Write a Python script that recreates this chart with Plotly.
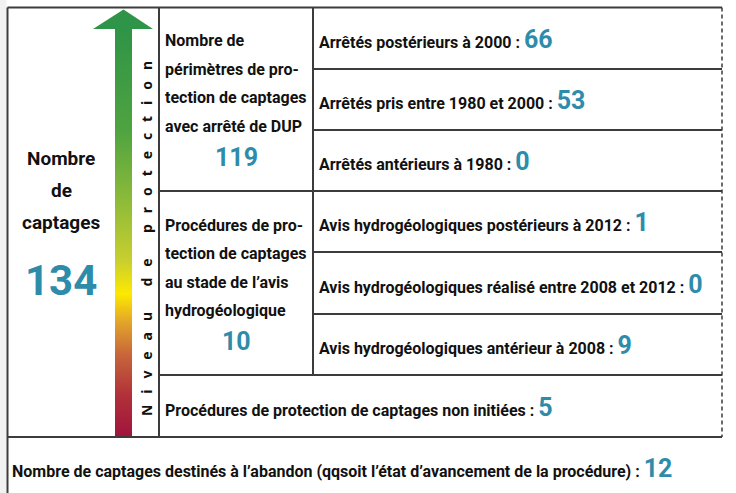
import plotly.graph_objects as go

# ---------------- data ----------------
left_title = ["Nombre", "de", "captages"]
total_captages = 134

dup_title = ["Nombre de", "périmètres de pro-", "tection de captages", "avec arrêté de DUP"]
dup_total = 119
dup_labels = ["Arrêtés postérieurs à 2000", "Arrêtés pris entre 1980 et 2000", "Arrêtés antérieurs à 1980"]
dup_values = [66, 53, 0]

avis_title = ["Procédures de pro-", "tection de captages", "au stade de l’avis", "hydrogéologique"]
avis_total = 10
avis_labels = ["Avis hydrogéologiques postérieurs à 2012",
               "Avis hydrogéologiques réalisé entre 2008 et 2012",
               "Avis hydrogéologiques antérieur à 2008"]
avis_values = [1, 0, 9]

non_init_label = "Procédures de protection de captages non initiées"
non_init_value = 5

abandon_label = "Nombre de captages destinés à l’abandon (qqsoit l’état d’avancement de la procédure)"
abandon_value = 12

axis_label = "Niveau de protection"

# ---------------- style ----------------
W, H = 736, 493
FONT = "Roboto, Liberation Sans, sans-serif"
VFONT = "Noto Sans, sans-serif"
TXT = "#111111"
NUM = "#2e8cab"
LINE = "#3c3c3c"
LW = 2
FS = 16
NFS = 25

LEFT, TOP, COL1, COL2, RIGHT = 7.5, 7.5, 159, 313, 722
dup_rows = [7.5, 69, 130, 191]
avis_rows = [191, 252, 314, 375]
non_init_row = [375, 437]
bottom_row = [437, 493]

fig = go.Figure()

shapes = []
shapes.append(dict(type="rect", x0=0, x1=LEFT - 1, y0=0, y1=H, fillcolor="#f2f2f2", line_width=0, layer="below"))


def hline(y, x0, x1):
    shapes.append(dict(type="line", x0=x0, x1=x1, y0=y, y1=y, line=dict(color=LINE, width=LW)))


def vline(x, y0, y1):
    shapes.append(dict(type="line", x0=x, x1=x, y0=y0, y1=y1, line=dict(color=LINE, width=LW)))


hline(TOP, LEFT, RIGHT)
vline(LEFT, TOP, H)
vline(COL1, TOP, non_init_row[1])
vline(COL2, TOP, avis_rows[-1])
for y in dup_rows[1:-1] + avis_rows[1:-1]:
    hline(y, COL2, RIGHT)
hline(dup_rows[-1], COL1, RIGHT)
hline(avis_rows[-1], COL1, RIGHT)
hline(non_init_row[1], LEFT, RIGHT)
shapes.append(dict(type="line", x0=RIGHT, x1=RIGHT, y0=TOP, y1=non_init_row[1],
                   line=dict(color=LINE, width=1.5, dash="4px,3px")))

shapes.append(dict(type="path", path="M 93,29 L 123.5,9.5 L 153,29 Z", fillcolor="#2e9447", line_width=0))
fig.update_layout(shapes=shapes)

shaft_x = [115, 132, 132, 115, 115]
shaft_y = [28, 28, 437, 437, 28]
fig.add_trace(go.Scatter(
    x=shaft_x, y=shaft_y, mode="lines", fill="toself", line=dict(width=0),
    fillgradient=dict(type="vertical", start=28, stop=437,
                      colorscale=[[0.0, "#2e9447"], [0.25, "#4fa340"], [0.42, "#8cba3a"],
                                  [0.57, "#c9cf2e"], [0.65, "#fde900"], [0.72, "#e2a42a"],
                                  [0.8, "#c7653a"], [0.9, "#b0303a"], [1.0, "#a0143c"]]),
    hoverinfo="skip", showlegend=False))

ann = []


def text(x, y, s, size=FS, color=TXT, xanchor="left", angle=0, family=FONT):
    ann.append(dict(x=x, y=y, xref="x", yref="y", text=s, showarrow=False, xanchor=xanchor,
                    yanchor="middle", textangle=angle,
                    font=dict(family=family, size=size, color=color, weight="bold")))


def labelled(lab, v):
    return f"{lab} : <span style='font-size:{NFS}px;fill:{NUM}'>{v}</span>"


for i, s in enumerate(left_title):
    text(61, 158 + i * 32, s, size=19, xanchor="center")
text(61, 280, str(total_captages), size=42, color=NUM, xanchor="center")

spaced = ("\u00a0" * 7).join(("\u00a0" * 3).join(list(w)) for w in axis_label.split(" "))
text(146, 239, spaced, size=14, xanchor="center", angle=-90, family=VFONT)

STEP = 28.5
for i, s in enumerate(dup_title):
    text(COL1 + 4, 40.5 + i * STEP, s)
text((COL1 + COL2) / 2, 157.5, str(dup_total), size=NFS, color=NUM, xanchor="center")
for i, s in enumerate(avis_title):
    text(COL1 + 4, 225 + i * STEP, s)
text((COL1 + COL2) / 2, 341, str(avis_total), size=NFS, color=NUM, xanchor="center")

for i, (lab, v) in enumerate(zip(dup_labels, dup_values)):
    ymid = (dup_rows[i] + dup_rows[i + 1]) / 2
    text(COL2 + 4, ymid + 1, labelled(lab, v))
for i, (lab, v) in enumerate(zip(avis_labels, avis_values)):
    ymid = (avis_rows[i] + avis_rows[i + 1]) / 2
    text(COL2 + 4, ymid + 1, labelled(lab, v))

text(COL1 + 4, (non_init_row[0] + non_init_row[1]) / 2 + 1, labelled(non_init_label, non_init_value))
text(10, 468, labelled(abandon_label, abandon_value))

fig.update_layout(
    annotations=ann,
    width=W, height=H,
    margin=dict(l=0, r=0, t=0, b=0),
    paper_bgcolor="white", plot_bgcolor="white",
    xaxis=dict(range=[0, W], visible=False, fixedrange=True),
    yaxis=dict(range=[H, 0], visible=False, fixedrange=True),
    showlegend=False,
)

fig.write_html("out.html", config={"displayModeBar": False},
               post_script="document.body.style.margin='0';")
